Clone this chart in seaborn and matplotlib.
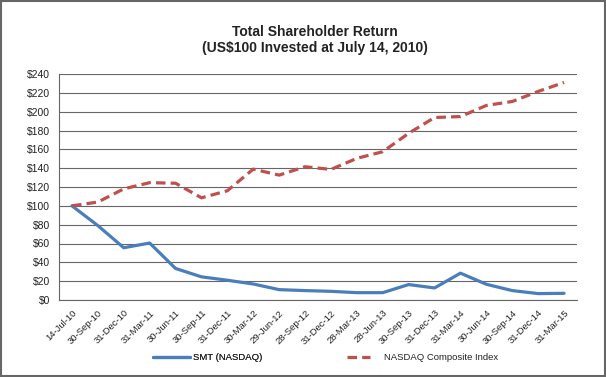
import matplotlib
matplotlib.use("Agg")
import matplotlib.pyplot as plt
import seaborn as sns
import pandas as pd
from matplotlib.patches import Rectangle
from matplotlib.lines import Line2D

dates = ["14-Jul-10", "30-Sep-10", "31-Dec-10", "31-Mar-11", "30-Jun-11", "30-Sep-11",
         "31-Dec-11", "30-Mar-12", "29-Jun-12", "28-Sep-12", "31-Dec-12", "28-Mar-13",
         "28-Jun-13", "30-Sep-13", "31-Dec-13", "31-Mar-14", "30-Jun-14", "30-Sep-14",
         "31-Dec-14", "31-Mar-15"]
smt = [100, 79, 55.5, 60.5, 33.5, 24.6, 21, 17, 11, 10,
       9.2, 7.8, 7.8, 16.4, 12.8, 28.5, 16.7, 10, 6.8, 7.1]
nasdaq = [100, 104, 118, 124.6, 124, 108.5, 116, 139, 132.6, 141.5,
          138.7, 150.4, 157.5, 177, 193.8, 194.8, 206.6, 210.8, 221.5, 231]
series_names = ["SMT (NASDAQ)", "NASDAQ Composite Index"]
yticks = list(range(0, 241, 20))

sns.set_theme(style="white")
plt.rcParams["font.family"] = ["Liberation Sans", "DejaVu Sans"]

df = pd.DataFrame({
    "date": dates * 2,
    "pos": list(range(len(dates))) * 2,
    "value": smt + nasdaq,
    "series": [series_names[0]] * len(dates) + [series_names[1]] * len(dates),
})

fig = plt.figure(figsize=(6.06, 3.77), dpi=100)
ax = fig.add_axes([59 / 606, 1 - 300 / 377, (577 - 59) / 606, (300 - 74) / 377])

BLUE, RED = "#4a7ebb", "#c0504d"
palette = {series_names[0]: BLUE, series_names[1]: RED}
DASH = (3, 1.6)
sns.lineplot(data=df, x="pos", y="value", hue="series", style="series",
             palette=palette, dashes={series_names[0]: "", series_names[1]: DASH},
             linewidth=2.3, ax=ax, legend=False)

ax.set_xlim(-0.5, len(dates) - 0.5)
ax.set_ylim(0, 240)
ax.set_yticks(yticks)
ax.set_yticklabels([f"${v}" for v in yticks], fontsize=7.5, color="#222222")
ax.set_xticks([i for i in range(len(dates))])
ax.set_xticklabels(dates, rotation=45, ha="right", rotation_mode="anchor", fontsize=6.8, color="#222222")
ax.set_xticks([i - 0.5 for i in range(len(dates) + 1)], minor=True)
ax.tick_params(axis="x", which="major", length=0, pad=6)
ax.tick_params(axis="x", which="minor", length=4, color="#666666", width=0.8, direction="out")
ax.tick_params(axis="y", length=4, color="#666666", width=0.8, direction="out", pad=2.5)
ax.set_xlabel("")
ax.set_ylabel("")
ax.yaxis.grid(True, color="#666666", linewidth=0.8)
ax.set_axisbelow(True)
for s in ["top", "right"]:
    ax.spines[s].set_visible(False)
for s in ["left", "bottom"]:
    ax.spines[s].set_color("#666666")
    ax.spines[s].set_linewidth(0.8)

fig.text(315 / 606, 1 - 32.5 / 377, "Total Shareholder Return", ha="center", va="center",
         fontsize=10, fontweight="bold", color="#222222")
fig.text(315 / 606, 1 - 48 / 377, "(US$100 Invested at July 14, 2010)", ha="center", va="center",
         fontsize=10, fontweight="bold", color="#222222")

# legend (two pieces, positioned as in the reference)
ly = 1 - 357.5 / 377
leg1 = fig.legend([Line2D([], [], color=BLUE, linewidth=2.3)], [series_names[0]],
                  loc="center left", bbox_to_anchor=(153 / 606, ly), frameon=False,
                  fontsize=6.8, handlelength=3.9, handletextpad=0.35,
                  borderpad=0, borderaxespad=0)
leg1.get_texts()[0].set_color("#222222")
leg2 = fig.legend([Line2D([], [], color=RED, linewidth=2.3, linestyle=(0, DASH))], [series_names[1]],
                  loc="center left", bbox_to_anchor=(347 / 606, ly), frameon=False,
                  fontsize=6.8, handlelength=2.45, handletextpad=1.45,
                  borderpad=0, borderaxespad=0)
leg2.get_texts()[0].set_color("#222222")
fig.add_artist(leg1)

fig.patches.append(Rectangle((0.001, 0.002), 0.997, 0.996, transform=fig.transFigure,
                             fill=False, edgecolor="#666666", linewidth=1.5))

fig.savefig("out.png", dpi=100)
